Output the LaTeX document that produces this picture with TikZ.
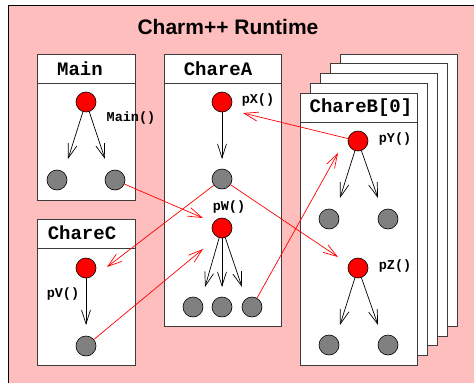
\documentclass[tikz,border=0pt]{standalone}
\usepackage{fontspec}
\setmainfont{Liberation Sans}
\setmonofont{Liberation Mono}
\usetikzlibrary{arrows.meta}
\definecolor{bgpink}{RGB}{255,190,190}
\definecolor{dotgray}{RGB}{128,128,128}
\definecolor{edgegray}{RGB}{60,60,60}
\begin{document}
\begin{tikzpicture}[x=1pt,y=-1pt,
  box/.style={draw=edgegray, fill=white, line width=1pt},
  reddot/.style={circle, draw=black, fill=red, minimum size=20pt, inner sep=0pt, line width=0.6pt},
  graydot/.style={circle, draw=black, fill=dotgray, minimum size=20pt, inner sep=0pt, line width=0.6pt},
  hdr/.style={font=\ttfamily\bfseries\fontsize{19}{19}\selectfont, inner sep=0pt},
  lbl/.style={font=\ttfamily\bfseries\fontsize{13.5}{13.5}\selectfont, inner sep=0pt},
  call/.style={-{Straight Barb[length=14pt,width=9pt]}, line width=0.7pt, draw=black},
  msg/.style={-{Straight Barb[length=14pt,width=9pt]}, line width=0.7pt, draw=red}
]
\useasboundingbox (0,0) rectangle (474,383);
\fill[white] (0,0) rectangle (474,383);
\fill[bgpink] (8,5) rectangle (474,383);
\draw[line width=1pt] (8,383) -- (8,5) -- (474,5);

\node[font=\bfseries\fontsize{21}{21}\selectfont, inner sep=0pt] (title) at (228,27) {Charm++ Runtime};

% ---- Main box
\draw[box] (37,54) rectangle (135,200);
\draw[edgegray, line width=1pt] (37,83) -- (135,83);
\node[hdr] (mainhdr) at (80,69) {Main};
\node[reddot] (m0) at (86,102) {};
\node[graydot] (m1) at (57,180) {};
\node[graydot] (m2) at (115,180) {};
\node[lbl] (mainlbl) at (131,118) {Main()};
\coordinate (m1t) at (68,159);
\coordinate (m2t) at (105,159);

% ---- ChareC box
\draw[box] (37,219) rectangle (135,365);
\draw[edgegray, line width=1pt] (37,248) -- (135,248);
\node[hdr] (chcHdr) at (82,233) {ChareC};
\node[reddot] (c0) at (86,268) {};
\node[graydot] (c1) at (86,346) {};
\node[lbl] (pvlbl) at (63,294) {pV()};
\coordinate (c1t) at (86,325);

% ---- ChareA box
\draw[box] (164,54) rectangle (281,326);
\draw[edgegray, line width=1pt] (164,83) -- (281,83);
\node[hdr] (chaHdr) at (218,69) {ChareA};
\node[reddot] (a0) at (222,102) {};
\node[lbl] (pxlbl) at (258,100) {pX()};
\node[graydot] (a1) at (222,179) {};
\node[lbl] (pwlbl) at (229,207) {pW()};
\node[reddot] (a2) at (222,228) {};
\node[graydot] (a3) at (193,307) {};
\node[graydot] (a4) at (222,307) {};
\node[graydot] (a5) at (252,307) {};
\coordinate (a1t) at (222,159);
\coordinate (a3t) at (205,287);
\coordinate (a4t) at (222,287);
\coordinate (a5t) at (242,287);

% ---- ChareB stack
\draw[box] (340,54) rectangle (457,326);
\draw[box] (330,63) rectangle (447,336);
\draw[box] (320,73) rectangle (437,345);
\draw[box] (310,83) rectangle (427,355);
\draw[box] (300,93) rectangle (417,365);
\draw[edgegray, line width=1pt] (300,122) -- (417,122);
\node[hdr] (chbHdr) at (361,108) {ChareB[0]};
\node[reddot] (b0) at (358,141) {};
\node[lbl] (pylbl) at (395,139) {pY()};
\node[graydot] (b1) at (329,219) {};
\node[graydot] (b2) at (388,219) {};
\node[reddot] (b3) at (358,268) {};
\node[lbl] (pzlbl) at (395,266) {pZ()};
\node[graydot] (b4) at (329,345) {};
\node[graydot] (b5) at (388,345) {};
\coordinate (b1t) at (340,198);
\coordinate (b2t) at (378,198);
\coordinate (b4t) at (340,325);
\coordinate (b5t) at (378,325);

% ---- black call arrows
\draw[call] (m0) -- (m1t);
\draw[call] (m0) -- (m2t);
\draw[call] (c0) -- (c1t);
\draw[call] (a0) -- (a1t);
\draw[call] (a2) -- (a3t);
\draw[call] (a2) -- (a4t);
\draw[call] (a2) -- (a5t);
\draw[call] (b0) -- (b1t);
\draw[call] (b0) -- (b2t);
\draw[call] (b3) -- (b4t);
\draw[call] (b3) -- (b5t);

% ---- red message arrows
\coordinate (tX) at (243,113);
\coordinate (tW1) at (203,218);
\coordinate (tV) at (107,267);
\coordinate (tW2) at (203,249);
\coordinate (tZ) at (338,257);
\coordinate (tY) at (338,153);
\draw[msg] (b0) -- (tX);
\draw[msg] (m2) -- (tW1);
\draw[msg] (a1) -- (tV);
\draw[msg] (c1) -- (tW2);
\draw[msg] (a1) -- (tZ);
\draw[msg] (a5) -- (tY);
\end{tikzpicture}
\end{document}
